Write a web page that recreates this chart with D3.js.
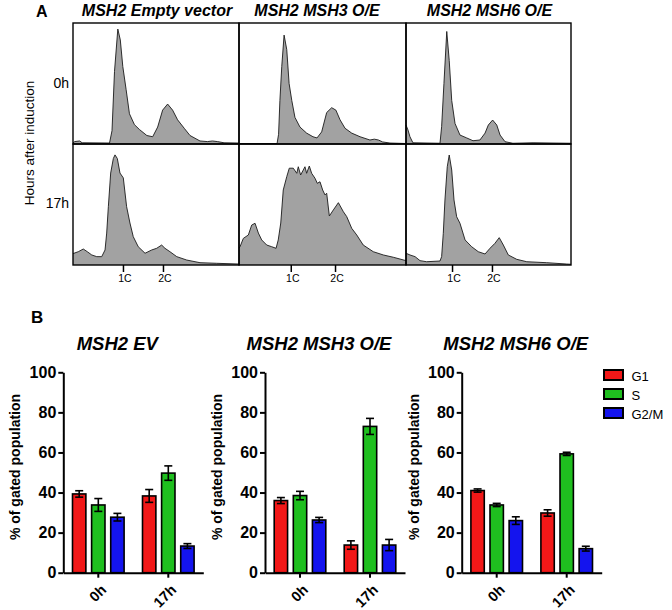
<!DOCTYPE html>
<html><head><meta charset="utf-8">
<script src="https://cdn.jsdelivr.net/npm/d3@7"></script>
<style>body{margin:0;background:#fff} svg{display:block} text{font-family:Arial,"Liberation Sans",sans-serif;fill:#000}</style>
</head><body><svg id="c" width="672" height="610"></svg>
<script>
// ---------- Panel A data (x: DNA content channel 0-100, y: relative count 0-100) ----------
const histConditions = ["MSH2 Empty vector", "MSH2 MSH3 O/E", "MSH2 MSH6 O/E"];
const histTimes = ["0h", "17h"];
const ploidyLabels = ["1C", "2C"];
const ploidyTicks = [[30.1, 54.2], [31, 57.5], [27.9, 52.1]];

const histEV0h = [[0,0.8],[1,2],[4,2.5],[5.5,1],[22,0.8],[23.5,11],[25,60],[27,95],[28.5,86],[30,64],[32,45],[34,25],[37,16],[40,12],[44.5,7],[48,6],[51,14],[54,28],[57,33],[60,28],[63,20],[67,13],[70.5,7],[76.5,2.5],[81,2],[84,2.5],[87,2],[91,1],[100,0.8]];
const histMSH3_0h = [[0,0.4],[22.8,0.4],[23.7,8],[24.5,36],[25.6,64],[27,90],[28.6,78],[30,50],[31.6,36],[33.5,22],[36.5,14],[40.5,9],[44.3,6],[46.7,5],[49.5,10],[52.5,26],[55.5,30],[58,28],[60.5,20],[63.5,13],[67.5,9],[72.5,6],[78.4,3.3],[81,4],[83.5,3.3],[86,1.7],[90.4,0.8],[100,0.4]];
const histMSH6_0h = [[0,15.7],[1.2,11.6],[2.4,6],[4.2,1],[20.6,0.6],[21.6,14.3],[23,50],[24.7,93],[26.2,69],[27.7,36],[29.7,17],[32.7,7.4],[36.8,5],[40.6,2.7],[44.8,3.3],[47.9,9],[49.9,15.7],[52.5,19.8],[55,15.7],[57,7.4],[60,1.9],[64.8,0.6],[77,1],[100,0.6]];
const histEV17h = [[0,9.5],[0.6,9.7],[3.2,11],[6.2,13.2],[8.6,11],[11.3,8.3],[14.3,6.9],[17.3,6.9],[19.3,12.4],[20.3,26.4],[21.3,48.2],[22.7,76],[24.3,88],[25.3,91],[26.7,88],[28.3,76],[30.3,72],[32.3,48.2],[34.3,34.7],[36.3,23.4],[39.3,15.1],[43.4,9.7],[47.4,12.4],[50.4,13.8],[53.4,16.5],[55.4,13.8],[58.4,11],[62.5,6.9],[68.5,4.1],[76.5,1.9],[86.6,1.4],[100,0.8]];
const histMSH3_17h = [[0,14],[0.6,15.1],[2.6,22],[5.6,24.8],[7.6,33],[9.6,34.5],[11.6,26.4],[13.6,20.7],[16.6,16.5],[19.6,15.1],[22.2,13.8],[23.5,20.7],[25,34.7],[26.5,62],[28.6,73],[30.1,80],[32.5,80],[34.6,75.8],[35.5,81.2],[36.9,74.4],[38.5,78.5],[39.5,81.2],[40.5,75.8],[42.1,81.8],[43.5,75.8],[45.5,71.7],[46.9,67.5],[48.5,68.8],[50.1,62],[51.5,57.9],[52.5,59.3],[54.1,40.5],[56.5,45.5],[59.5,51.5],[62.5,44],[64.5,40],[67.5,30.3],[70.5,24.8],[74.4,16.5],[80.4,11],[86.4,8.3],[92.4,6.4],[100,3.6]];
const histMSH6_17h = [[0,9.7],[2.4,8.3],[5.5,6.9],[8.5,3.6],[12.5,2.7],[20.6,3.3],[21.6,6.9],[22.6,26.2],[23.6,53.7],[25,81.2],[26.2,90.9],[27.7,78.5],[29.1,53.7],[30.7,39.9],[32.7,34.5],[35.8,20.7],[39.8,15.1],[43.8,11],[47.9,9.1],[50.9,13.8],[53.9,17.9],[56.5,22.6],[59,16.5],[62,8.3],[67.1,4.7],[73.2,2.7],[85.3,1.9],[97.4,0.8],[100,0.6]];
const histGrid = [[histEV0h, histMSH3_0h, histMSH6_0h], [histEV17h, histMSH3_17h, histMSH6_17h]];

// ---------- Panel B data ----------
const barConditions = ["MSH2 EV", "MSH2 MSH3 O/E", "MSH2 MSH6 O/E"];
const timePoints = ["0h", "17h"];
const phases = ["G1", "S", "G2/M"];
const phaseColors = ["#f21818", "#1fbf1f", "#1414ee"];
const yTicks = [0, 20, 40, 60, 80, 100];
const meanEV = [[39.3, 33.8, 27.7], [38.3, 49.7, 13.3]];
const errEV = [[1.6, 3.2, 1.9], [3.2, 3.6, 1.2]];
const meanMSH3 = [[36, 38.5, 26.3], [13.8, 73, 13.8]];
const errMSH3 = [[1.5, 2.1, 1.3], [2.1, 4, 2.8]];
const meanMSH6 = [[41, 33.8, 26], [29.8, 59.3, 12]];
const errMSH6 = [[0.8, 0.8, 1.9], [1.6, 0.8, 1.2]];
const barMeans = [meanEV, meanMSH3, meanMSH6];
const barErrs = [errEV, errMSH3, errMSH6];

const svg = d3.select("#c");

// ================= Panel A =================
const colX = [73, 239, 406, 571];
const rowY = [23, 144, 265];
svg.append("text").attr("x", 36).attr("y", 17).attr("font-size", 16).attr("font-weight", "bold").text("A");

histGrid.forEach((row, r) => {
  row.forEach((data, c) => {
    const x = d3.scaleLinear().domain([0, 100]).range([colX[c], colX[c + 1]]);
    const y = d3.scaleLinear().domain([0, 100]).range([rowY[r + 1], rowY[r]]);
    const area = d3.area().x(d => x(d[0])).y0(y(0)).y1(d => y(d[1]));
    const line = d3.line().x(d => x(d[0])).y(d => y(d[1]));
    svg.append("path").datum(data).attr("d", area).attr("fill", "#a2a2a2");
    svg.append("path").datum(data).attr("d", line).attr("fill", "none").attr("stroke", "#1a1a1a").attr("stroke-width", 0.9).attr("stroke-linejoin", "round");
  });
});
// frames
for (let r = 0; r < 2; r++) for (let c = 0; c < 3; c++) {
  svg.append("rect").attr("x", colX[c]).attr("y", rowY[r]).attr("width", colX[c + 1] - colX[c]).attr("height", rowY[r + 1] - rowY[r])
    .attr("fill", "none").attr("stroke", "#000").attr("stroke-width", 1.4);
}
// column titles
histConditions.forEach((t, c) => {
  const cx = c === 1 ? 317 : (colX[c] + colX[c + 1]) / 2 + 1;
  svg.append("text").attr("x", cx).attr("y", 16).attr("text-anchor", "middle")
    .attr("font-size", 16).attr("font-weight", "bold").attr("font-style", "italic").text(t);
});
// row labels
histTimes.forEach((t, r) => {
  svg.append("text").attr("x", 69).attr("y", r === 0 ? 88 : 208).attr("text-anchor", "end").attr("font-size", 14).text(t);
});
svg.append("text").attr("transform", "translate(34,143) rotate(-90)").attr("text-anchor", "middle").attr("font-size", 13.5).text("Hours after induction");
// ploidy ticks
ploidyTicks.forEach((tk, c) => {
  const x = d3.scaleLinear().domain([0, 100]).range([colX[c], colX[c + 1]]);
  const ax = d3.axisBottom(x).tickValues(tk).tickFormat((d, i) => ploidyLabels[i]).tickSize(7).tickPadding(3).tickSizeOuter(0);
  const g = svg.append("g").attr("transform", `translate(0,${rowY[2]})`).call(ax);
  g.select(".domain").remove();
  g.selectAll("line").attr("stroke-width", 1.5);
  g.selectAll("text").attr("font-size", 10.5).attr("font-family", "Arial, sans-serif").attr("fill", "#000").attr("dx", "1.5");
});

// ================= Panel B =================
svg.append("text").attr("x", 31).attr("y", 322.5).attr("font-size", 17).attr("font-weight", "bold").text("B");
const axisX = [63.3, 265, 461.7];
const axisW = 140;
const yB = d3.scaleLinear().domain([0, 100]).range([572.7, 372.3]);

barConditions.forEach((cond, p) => {
  const x0 = d3.scaleBand().domain(timePoints).range([axisX[p], axisX[p] + axisW]).padding(0);
  const x1 = d3.scaleBand().domain(phases).range([-25.8, 25.8]).paddingInner(0.3).paddingOuter(0);
  const g = svg.append("g");
  // bars
  timePoints.forEach((tp, ti) => {
    const cx = x0(tp) + x0.bandwidth() / 2;
    phases.forEach((ph, pi) => {
      const v = barMeans[p][ti][pi], e = barErrs[p][ti][pi];
      const bx = cx + x1(ph);
      g.append("rect").attr("x", bx).attr("y", yB(v)).attr("width", x1.bandwidth()).attr("height", yB(0) - yB(v))
        .attr("fill", phaseColors[pi]).attr("stroke", "#000").attr("stroke-width", 1.6);
      const mx = bx + x1.bandwidth() / 2;
      g.append("line").attr("x1", mx).attr("x2", mx).attr("y1", yB(v - e)).attr("y2", yB(v + e)).attr("stroke", "#000").attr("stroke-width", 1.6);
      [v - e, v + e].forEach(yy => g.append("line").attr("x1", mx - 4).attr("x2", mx + 4).attr("y1", yB(yy)).attr("y2", yB(yy)).attr("stroke", "#000").attr("stroke-width", 1.6));
    });
  });
  // y axis
  const ya = svg.append("g").attr("transform", `translate(${axisX[p]},0)`)
    .call(d3.axisLeft(yB).tickValues(yTicks).tickSize(5).tickPadding(2).tickSizeOuter(0));
  ya.select(".domain").attr("stroke-width", 2);
  ya.selectAll("line").attr("stroke-width", 2);
  ya.selectAll("text").attr("font-size", 16).attr("font-weight", "bold").attr("font-family", "Arial, sans-serif").attr("fill", "#000");
  // x axis
  const xa = svg.append("g").attr("transform", `translate(0,${yB(0)})`)
    .call(d3.axisBottom(x0).tickSize(5).tickSizeOuter(0));
  xa.select(".domain").attr("stroke-width", 2);
  xa.selectAll("line").attr("stroke-width", 2);
  xa.selectAll("text").attr("font-size", 14.5).attr("font-weight", "bold").attr("font-family", "Arial, sans-serif").attr("fill", "#000")
    .attr("text-anchor", "end").attr("y", 0).attr("dy", "0").attr("transform", "translate(9,18) rotate(-45)");
  // y title
  svg.append("text").attr("transform", `translate(${axisX[p] - 43},467) rotate(-90)`).attr("text-anchor", "middle")
    .attr("font-size", 14).attr("font-weight", "bold").text("% of gated population");
  // title
  svg.append("text").attr("x", axisX[p] + 54).attr("y", 349.5).attr("text-anchor", "middle")
    .attr("font-size", 18.5).attr("font-weight", "bold").attr("font-style", "italic").text(cond);
});

// legend
phases.forEach((ph, i) => {
  const ly = 370 + i * 19;
  svg.append("rect").attr("x", 604).attr("y", ly).attr("width", 19).attr("height", 10).attr("fill", phaseColors[i]).attr("stroke", "#000").attr("stroke-width", 2);
  svg.append("text").attr("x", 631.5).attr("y", ly + 10.5).attr("font-size", 13).text(ph);
});
</script></body></html>
